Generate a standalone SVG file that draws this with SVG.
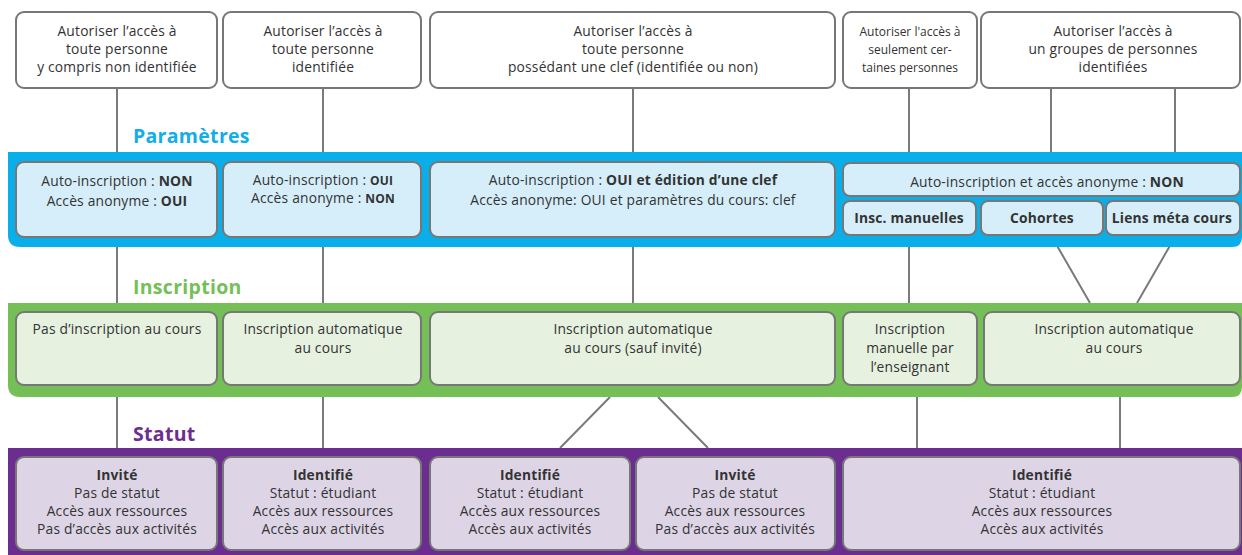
<svg xmlns="http://www.w3.org/2000/svg" width="1242" height="555" viewBox="0 0 1242 555">
<style>
text{font-family:"Open Sans","Liberation Sans",sans-serif;font-size:13.8px;letter-spacing:0.2px;fill:#333;text-anchor:middle}
.b{font-weight:bold}
.sm{font-size:12px;letter-spacing:0}
.top{fill:#fff;stroke:#777;stroke-width:2}
.bl{fill:#d5eef9;stroke:#777;stroke-width:2}
.gr{fill:#e6f1df;stroke:#777;stroke-width:2}
.pu{fill:#ddd5e6;stroke:#777;stroke-width:2}
.ln{stroke:#7a7a7a;stroke-width:2;fill:none}
.title{font-size:19.5px;font-weight:bold;text-anchor:start;letter-spacing:0.3px}
</style>
<rect width="1242" height="555" fill="#fff"/>
<g id="connectors">
<path class="ln" d="M117 88V152M323 88V152M633 88V152M909 88V152M1051 88V152M1175 88V152"/>
<path class="ln" d="M117 247V303M323 247V303M633 247V303M909 235V303M1052 237L1090 303M1175 237L1137 303"/>
<path class="ln" d="M117 397V448M323 397V448M610 397L560 448M658 397L708 448M917 397V448M1120 397V448"/>
</g>
<g id="bands">
<path d="M8 152H1242V237Q1242 247 1232 247H20Q8 247 8 235Z" fill="#0aaee8"/>
<path d="M8 303H1242V387Q1242 397 1232 397H20Q8 397 8 385Z" fill="#74bf56"/>
<path d="M8 448H1242V555H8Z" fill="#6b2d8f"/>
</g>
<text class="title" x="133" y="143" style="fill:#13aee8">Paramètres</text>
<text class="title" x="133" y="294" style="fill:#74bf56">Inscription</text>
<text class="title" x="133" y="441" style="fill:#6b2d8f">Statut</text>
<g id="top1"><rect class="top" x="16" y="12" width="201" height="76" rx="8"/><text x="117" y="36">Autoriser l’accès à</text><text x="117" y="54">toute personne</text><text x="117" y="72">y compris non identifiée</text></g>
<g id="top2"><rect class="top" x="223" y="12" width="198" height="76" rx="8"/><text x="323" y="36">Autoriser l’accès à</text><text x="323" y="54">toute personne</text><text x="323" y="72">identifiée</text></g>
<g id="top3"><rect class="top" x="430" y="12" width="405" height="76" rx="8"/><text x="633" y="36">Autoriser l’accès à</text><text x="633" y="54">toute personne</text><text x="633" y="72">possédant une clef (identifiée ou non)</text></g>
<g id="top4"><rect class="top" x="843" y="12" width="134" height="76" rx="8"/><text class="sm" x="910" y="36">Autoriser l'accès à</text><text class="sm" x="910" y="54">seulement cer-</text><text class="sm" x="910" y="72">taines personnes</text></g>
<g id="top5"><rect class="top" x="981" y="12" width="259" height="76" rx="8"/><text x="1113" y="36">Autoriser l’accès à</text><text x="1113" y="54">un groupes de  personnes</text><text x="1113" y="72">identifiées</text></g>
<g id="param1"><rect class="bl" x="16" y="162" width="201" height="75" rx="8"/><text x="117" y="186">Auto-inscription : <tspan class="b">NON</tspan></text><text x="117" y="206">Accès anonyme : <tspan class="b">OUI</tspan></text></g>
<g id="param2"><rect class="bl" x="223" y="162" width="198" height="75" rx="8"/><text x="323" y="185">Auto-inscription : <tspan class="b" style="font-size:12px">OUI</tspan></text><text x="323" y="203">Accès anonyme : <tspan class="b" style="font-size:12px">NON</tspan></text></g>
<g id="param3"><rect class="bl" x="430" y="162" width="405" height="75" rx="8"/><text x="633" y="185">Auto-inscription : <tspan class="b">OUI et édition d’une clef</tspan></text><text x="633" y="205">Accès anonyme: OUI et paramètres du cours: clef</text></g>
<g id="param4"><rect class="bl" x="843" y="163" width="397" height="33" rx="7"/><text x="1047" y="187">Auto-inscription et accès anonyme  : <tspan class="b">NON</tspan></text></g>
<g id="param5"><rect class="bl" x="843" y="201" width="133" height="34" rx="7"/><text class="b" x="909" y="223">Insc. manuelles</text></g>
<g id="param6"><rect class="bl" x="981" y="201" width="122" height="34" rx="7"/><text class="b" x="1042" y="223">Cohortes</text></g>
<g id="param7"><rect class="bl" x="1106" y="201" width="134" height="34" rx="7"/><text class="b" x="1172" y="223">Liens méta cours</text></g>
<g id="insc1"><rect class="gr" x="16" y="312" width="201" height="73" rx="8"/><text x="117" y="334">Pas d’inscription au cours</text></g>
<g id="insc2"><rect class="gr" x="223" y="312" width="198" height="73" rx="8"/><text x="323" y="334">Inscription automatique</text><text x="323" y="353">au cours</text></g>
<g id="insc3"><rect class="gr" x="430" y="312" width="405" height="73" rx="8"/><text x="633" y="334">Inscription automatique</text><text x="633" y="353">au cours (sauf invité)</text></g>
<g id="insc4"><rect class="gr" x="843" y="312" width="134" height="73" rx="8"/><text x="910" y="334">Inscription</text><text x="910" y="353">manuelle par</text><text x="910" y="372">l’enseignant</text></g>
<g id="insc5"><rect class="gr" x="984" y="312" width="256" height="73" rx="8"/><text x="1114" y="334">Inscription automatique</text><text x="1114" y="353">au cours</text></g>
<g id="stat1"><rect class="pu" x="16" y="457" width="201" height="93" rx="8"/><text class="b" x="117" y="480">Invité</text><text x="117" y="498">Pas de statut</text><text x="117" y="516">Accès aux ressources</text><text x="117" y="534">Pas d’accès aux activités</text></g>
<g id="stat2"><rect class="pu" x="223" y="457" width="198" height="93" rx="8"/><text class="b" x="323" y="480">Identifié</text><text x="323" y="498">Statut : étudiant</text><text x="323" y="516">Accès aux ressources</text><text x="323" y="534">Accès aux activités</text></g>
<g id="stat3"><rect class="pu" x="430" y="457" width="200" height="93" rx="8"/><text class="b" x="530" y="480">Identifié</text><text x="530" y="498">Statut : étudiant</text><text x="530" y="516">Accès aux ressources</text><text x="530" y="534">Accès aux activités</text></g>
<g id="stat4"><rect class="pu" x="636" y="457" width="199" height="93" rx="8"/><text class="b" x="735" y="480">Invité</text><text x="735" y="498">Pas de statut</text><text x="735" y="516">Accès aux ressources</text><text x="735" y="534">Pas d’accès aux activités</text></g>
<g id="stat5"><rect class="pu" x="843" y="457" width="397" height="93" rx="8"/><text class="b" x="1042" y="480">Identifié</text><text x="1042" y="498">Statut : étudiant</text><text x="1042" y="516">Accès aux ressources</text><text x="1042" y="534">Accès aux activités</text></g>
</svg>
